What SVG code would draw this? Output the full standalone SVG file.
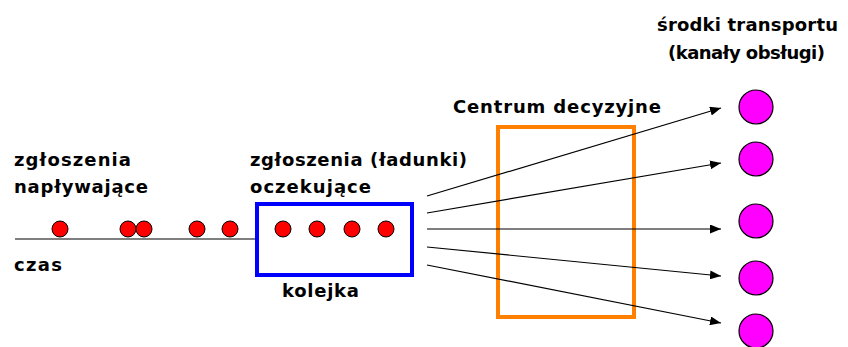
<svg xmlns="http://www.w3.org/2000/svg" width="848" height="347" viewBox="0 0 848 347">
<style>
text{font-family:"DejaVu Sans",Verdana,sans-serif;font-weight:bold;font-size:18px;fill:#000}
.red{fill:#ff0000;stroke:#000;stroke-width:1}
.mag{fill:#ff00ff;stroke:#000;stroke-width:1.2}
.ln{stroke:#000;stroke-width:1.2;fill:none}
</style>
<defs>
<marker id="ah" markerWidth="11" markerHeight="9" refX="11" refY="4.5" orient="auto" markerUnits="userSpaceOnUse">
<path d="M0,0 L11,4.5 L0,9 Z" fill="#000"/>
</marker>
</defs>
<g id="labels">
<text x="14" y="166" textLength="117" lengthAdjust="spacing">zgłoszenia</text>
<text x="14" y="193" textLength="134" lengthAdjust="spacing">napływające</text>
<text x="14" y="271" textLength="48" lengthAdjust="spacing">czas</text>
<text x="250" y="166" textLength="217" lengthAdjust="spacing">zgłoszenia (ładunki)</text>
<text x="250" y="193" textLength="121" lengthAdjust="spacing">oczekujące</text>
<text x="282" y="297" textLength="77" lengthAdjust="spacing">kolejka</text>
<text x="453" y="113" textLength="208" lengthAdjust="spacing">Centrum decyzyjne</text>
<text x="657" y="31" textLength="181" lengthAdjust="spacing">środki transportu</text>
<text x="668" y="59" textLength="157" lengthAdjust="spacing">(kanały obsługi)</text>
</g>
<g id="timeline">
<line class="ln" x1="15" y1="239" x2="257" y2="239"/>
<circle class="red" cx="60" cy="229" r="8"/>
<circle class="red" cx="128" cy="229" r="8"/>
<circle class="red" cx="144" cy="229" r="8"/>
<circle class="red" cx="197" cy="229" r="8"/>
<circle class="red" cx="230" cy="229" r="8"/>
</g>
<g id="queue">
<rect x="257" y="204" width="155" height="71" fill="none" stroke="#0000ff" stroke-width="4"/>
<circle class="red" cx="283" cy="229" r="8"/>
<circle class="red" cx="317" cy="229" r="8"/>
<circle class="red" cx="352" cy="229" r="8"/>
<circle class="red" cx="386" cy="229" r="8"/>
</g>
<g id="center">
<rect x="498" y="127" width="136" height="190" fill="none" stroke="#ff8000" stroke-width="4"/>
</g>
<g id="connectors">
<line class="ln" x1="427" y1="196" x2="721" y2="108" marker-end="url(#ah)"/>
<line class="ln" x1="427" y1="213" x2="721" y2="163" marker-end="url(#ah)"/>
<line class="ln" x1="427" y1="229" x2="721" y2="229" marker-end="url(#ah)"/>
<line class="ln" x1="427" y1="247" x2="721" y2="276" marker-end="url(#ah)"/>
<line class="ln" x1="427" y1="265" x2="721" y2="323" marker-end="url(#ah)"/>
</g>
<g id="channels">
<circle class="mag" cx="756" cy="107" r="17"/>
<circle class="mag" cx="756" cy="159" r="17"/>
<circle class="mag" cx="756" cy="221" r="17"/>
<circle class="mag" cx="756" cy="278" r="17"/>
<circle class="mag" cx="756" cy="331" r="17"/>
</g>
</svg>
